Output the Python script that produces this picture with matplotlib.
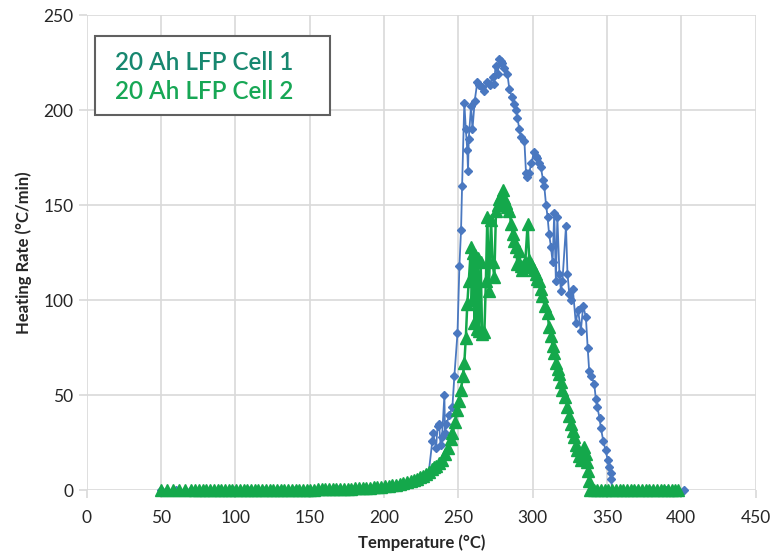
import matplotlib
matplotlib.use("Agg")
import matplotlib.pyplot as plt
from matplotlib.patches import Rectangle

plt.rcParams['font.family'] = ['Lato', 'DejaVu Sans']

# Cell 1 (ARC heating rate vs temperature)
cell1_temp = [50, 60, 70, 80, 90, 100, 110, 120, 130, 140, 150, 160, 170, 180,
              190, 200, 210, 220, 226, 230,
              232.5, 233, 235, 236, 237, 238, 239, 240.6, 241, 242, 244, 246,
              247.3, 249.4, 250.7, 251.8, 252.5, 254, 255, 256, 256.5, 257,
              258.5, 259.5, 261, 262.8, 264, 266, 267.5, 269.5, 271, 273, 274,
              275, 276.5, 277.5, 278.5, 279.6, 281, 283, 284.3, 286, 287.6,
              289, 289.7, 291, 292, 294.4, 295.5, 296.5, 297.7, 299, 301, 302,
              303, 304, 305.5, 307, 307.8, 309, 310, 311, 312.3, 313.4, 314.5,
              315.6, 316.6, 318, 319, 320, 322.4, 323.4, 324.6, 326, 327, 329,
              330.5, 332.4, 334, 335.8, 337, 338, 339.5, 341.4, 342.5, 343.4,
              345, 345.8, 347.5, 349, 350.5, 351.5, 352.5, 353, 353.3,
              360, 370, 380, 390, 396, 402]
cell1_rate = [0, 0, 0, 0, 0, 0, 0, 0, 0, 0, 0.2, 0.3, 0.4, 0.6,
              0.9, 1.3, 2.5, 5, 7, 9,
              26, 30, 22, 34, 35, 24, 28, 50, 30, 35, 39.5, 44,
              60, 82.5, 118, 137, 160, 204, 190, 179, 168, 185,
              202, 190, 205, 215, 213, 212, 210, 215, 213, 217.5, 214,
              223, 219, 227, 226, 224.7, 222, 219, 211, 207, 203,
              200, 196, 190, 186, 184, 167, 165, 167, 172, 178, 176,
              175, 172, 170, 163, 160, 150, 144, 135, 128, 120, 146,
              110, 144, 114, 105, 110, 139, 114, 103.5, 100, 106, 88,
              95, 84, 97, 91, 75, 63, 60, 56, 48, 44,
              38, 33, 26, 21, 16, 12, 9, 6, 0,
              0, 0, 0, 0, 0, 0]

# Cell 2
cell2_temp = [50, 54, 58, 62, 66, 70, 73, 75.5, 78, 80.5, 83, 85.5, 88,
              90.5, 93, 95.5, 98, 100.5, 103, 105.5, 108, 110.5, 113,
              115.5, 118, 120.5, 123, 125.5, 128, 130.5, 133, 135.5, 138,
              140.5, 143, 145.5, 148, 150.5, 153, 155.5, 158, 160.5, 163,
              165.5, 168, 170.5, 173, 175.5, 178, 180.5, 183, 185.5, 188,
              190.5, 193, 195.5, 198, 200.5, 203, 205.5, 208, 210.5, 213,
              215.5, 218, 220, 222, 224, 226, 228, 230, 232,
              233.5, 235, 237, 239, 241, 243, 245, 246, 248, 249.4, 250.5, 251.8,
              253, 254, 255, 256, 257, 258.5, 259, 260, 260.8, 261.5, 262.5,
              263, 264, 265, 266, 267.5, 268.5, 269.5, 270.5, 272, 273, 274.2,
              275.3, 276.5, 277.5, 278.5, 279.8, 281, 282, 283, 284.3, 285.5,
              286.5, 287.5, 288.8, 289.7, 291, 292, 293, 294, 295, 296.6, 297.7,
              298.7, 299.7, 301, 302, 303, 304.4, 305.5, 306.6, 308, 310, 311,
              312.3, 313.5, 314.5, 316, 317, 318, 319, 320, 321.5, 323.4, 324.5,
              325.7, 327, 328, 329, 330, 331, 332.4, 333.5, 334.7, 335.7, 336.7,
              337.5, 338, 338.5, 341, 343.5, 346, 348.5, 351, 353.5, 356, 358.5,
              361, 363.5, 366, 368.5, 371, 373.5, 376, 378.5, 381, 383.5, 386,
              388.5, 391, 393.5, 396, 397.5]
cell2_rate = [0, 0, 0, 0, 0, 0, 0, 0, 0, 0, 0, 0, 0,
              0, 0, 0, 0, 0, 0, 0, 0, 0, 0,
              0, 0, 0, 0, 0, 0, 0, 0.1, 0.1, 0.1,
              0.2, 0.2, 0.2, 0.3, 0.3, 0.3, 0.4, 0.4, 0.5, 0.5,
              0.6, 0.6, 0.7, 0.8, 0.8, 0.9, 1.0, 1.1, 1.2, 1.3,
              1.4, 1.5, 1.7, 1.9, 2.1, 2.4, 2.7, 3.0, 3.4, 3.8,
              4.3, 4.8, 5.4, 6.0, 6.8, 7.6, 8.6, 9.7, 11,
              12, 13, 14.5, 16, 19, 22, 27, 30, 36, 42, 47, 53,
              60, 67, 80, 98, 110, 128, 100, 125, 88, 124, 85,
              122, 84, 120, 82, 83, 110, 144, 105, 142, 120, 112,
              147, 150, 153, 155, 158, 154, 151, 149, 147, 140,
              135, 131, 128, 119, 126, 118, 116, 118, 120, 140, 121,
              119, 117.5, 116, 114, 111, 110, 106, 102, 97, 93, 86,
              81, 76, 72, 67, 64, 61, 57, 53, 49, 44, 39,
              35, 31, 28, 24, 21, 18, 16, 19, 23, 19, 15,
              10, 5, 0, 0, 0, 0, 0, 0, 0, 0, 0,
              0, 0, 0, 0, 0, 0, 0, 0, 0, 0, 0,
              0, 0, 0, 0, 0]

series_labels = ['20 Ah LFP Cell 1', '20 Ah LFP Cell 2']
label_colors = ['#17876f', '#17a755']

x_ticks = list(range(0, 451, 50))
y_ticks = list(range(0, 251, 50))

blue = '#4a78c0'
green = '#14a84b'

fig = plt.figure(figsize=(7.75, 5.59), dpi=100)
ax = fig.add_axes([0.112, 0.123, 0.863, 0.850])

ax.plot(cell1_temp, cell1_rate, color=blue, lw=1.3, marker='D', ms=4.5,
        zorder=3, clip_on=False)
ax.plot(cell2_temp, cell2_rate, color=green, lw=1.8, marker='^', ms=8,
        zorder=4, clip_on=False)

ax.set_xlim(0, 450)
ax.set_ylim(0, 250)
ax.set_xticks(x_ticks)
ax.set_yticks(y_ticks)
ax.grid(True, color='#d9d9d9', lw=1.2)
ax.set_axisbelow(True)
for s in ax.spines.values():
    s.set_visible(False)
ax.tick_params(axis='both', colors='#d9d9d9', labelcolor='#262626',
               labelsize=12.5, length=6, width=1.2)
ax.tick_params(axis='x', pad=8)

ax.set_xlabel('Temperature (°C)', fontsize=12, fontweight='bold',
              color='#262626', labelpad=6)
ax.set_ylabel('Heating Rate (°C/min)', fontsize=12, fontweight='bold',
              color='#262626', labelpad=8)

# legend box with coloured labels only (no line samples)
ax.add_patch(Rectangle((0.012, 0.789), 0.351, 0.167, transform=ax.transAxes,
                       facecolor='white', edgecolor='#606060', lw=1.5,
                       zorder=6))
for i, (lab, col) in enumerate(zip(series_labels, label_colors)):
    ax.text(0.042, 0.884 - i * 0.061, lab, transform=ax.transAxes,
            color=col, fontsize=17.5, fontweight='semibold',
            va='baseline', ha='left', zorder=7)

fig.savefig('out.png', dpi=100)
